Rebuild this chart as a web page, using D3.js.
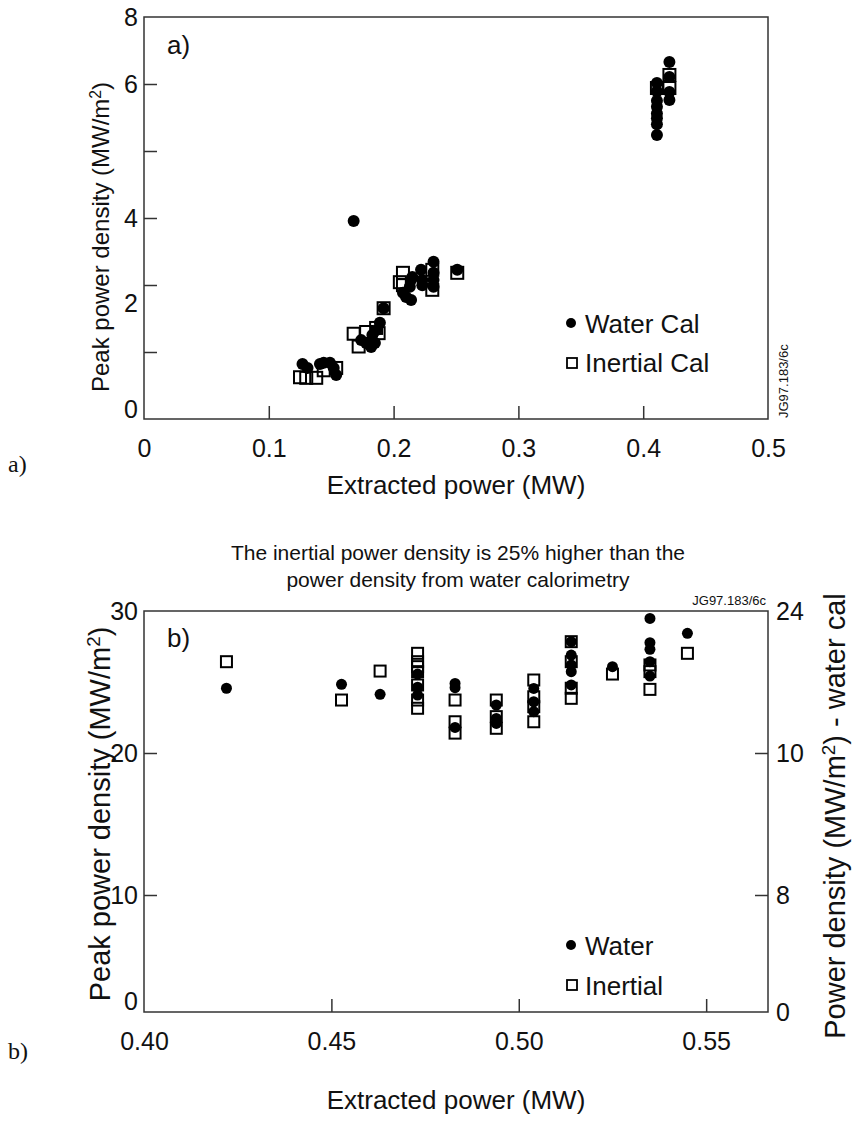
<!DOCTYPE html>
<html>
<head>
<meta charset="utf-8">
<script src="https://cdn.jsdelivr.net/npm/d3@7"></script>
<style>
  body { margin: 0; background: #fff; }
  text { font-family: "Liberation Sans", Arial, sans-serif; fill: #111; }
</style>
</head>
<body>
<div id="chart"></div>
<script>
// ---- panel a data (extracted power MW, peak power density MW/m2) ----
const aWaterX = [0.127, 0.131, 0.141, 0.144, 0.149, 0.152, 0.154,
  0.174, 0.178, 0.182, 0.185, 0.183, 0.189, 0.186, 0.192,
  0.168,
  0.2075, 0.210, 0.214, 0.214, 0.213, 0.215, 0.222, 0.223, 0.223, 0.232, 0.232, 0.232, 0.232, 0.251,
  0.411, 0.411, 0.411, 0.411, 0.411, 0.411, 0.411, 0.411,
  0.421, 0.421, 0.421, 0.421];
const aWaterY = [0.95, 0.88, 0.95, 0.97, 0.97, 0.88, 0.76,
  1.36, 1.31, 1.24, 1.31, 1.45, 1.66, 1.53, 1.91,
  3.93,
  2.24, 2.14, 2.07, 2.54, 2.38, 2.61, 2.78, 2.54, 2.42, 2.97, 2.71, 2.54, 2.38, 2.78,
  6.03, 5.89, 5.75, 5.66, 5.56, 5.49, 5.40, 5.24,
  6.66, 6.21, 5.88, 5.76];
const aInertX = [0.125, 0.130, 0.138, 0.144, 0.154,
  0.168, 0.172, 0.178, 0.186, 0.188, 0.192,
  0.2075, 0.205, 0.2075, 0.231, 0.231, 0.251,
  0.411, 0.421, 0.421];
const aInertY = [0.72, 0.71, 0.71, 0.84, 0.88,
  1.47, 1.25, 1.50, 1.57, 1.48, 1.91,
  2.71, 2.49, 2.42, 2.78, 2.31, 2.71,
  5.94, 6.27, 5.94];

// ---- panel b data ----
const bWaterX = [0.422, 0.4527, 0.463, 0.473, 0.473, 0.473, 0.483, 0.483, 0.483,
  0.494, 0.494, 0.494, 0.504, 0.504, 0.504, 0.514, 0.514, 0.514, 0.514, 0.514,
  0.525, 0.535, 0.535, 0.535, 0.535, 0.535, 0.545];
const bWaterY = [24.56, 24.84, 24.13, 25.56, 24.63, 24.08, 24.9, 24.6, 21.8,
  23.38, 22.43, 22.08, 24.55, 23.61, 22.91, 27.84, 26.9, 26.2, 25.73, 24.79,
  26.08, 29.48, 27.77, 27.3, 26.43, 25.42, 28.43];
const bInertX = [0.422, 0.4527, 0.463, 0.473, 0.473, 0.473, 0.473, 0.473, 0.473, 0.473,
  0.483, 0.483, 0.483, 0.494, 0.494, 0.494, 0.504, 0.504, 0.504, 0.504,
  0.514, 0.514, 0.514, 0.514, 0.525, 0.535, 0.535, 0.535, 0.545];
const bInertY = [26.43, 23.73, 25.77, 27.02, 26.43, 26.08, 25.73, 24.79, 23.73, 23.15,
  23.73, 22.2, 21.4, 23.73, 22.56, 21.74, 25.14, 23.96, 23.26, 22.2,
  27.84, 26.43, 24.56, 23.85, 25.56, 26.2, 25.73, 24.48, 27.02];

// tick labels as printed on the figure
const aXTicks = [0, 0.1, 0.2, 0.3, 0.4, 0.5];
const aYLabels = [0, 2, 4, 6, 8];
const bXTicks = [0.40, 0.45, 0.50, 0.55];
const bYLabels = [0, 10, 20, 30];
const bRightLabels = [0, 8, 10, 24];

const W = 855, H = 1128;
const svg = d3.select("#chart").append("svg").attr("width", W).attr("height", H);

const L = 144, R = 768;
const sup = "<tspan baseline-shift='super' font-size='0.65em'>2</tspan>";

function dot(g, x, y, xs, ys, r) {
  g.selectAll(null).data(xs).enter().append("circle")
    .attr("cx", (d, i) => x(d)).attr("cy", (d, i) => y(ys[i]))
    .attr("r", r).attr("fill", "#000");
}
function box(g, x, y, xs, ys, s) {
  g.selectAll(null).data(xs).enter().append("rect")
    .attr("x", (d, i) => x(d) - s / 2).attr("y", (d, i) => y(ys[i]) - s / 2)
    .attr("width", s).attr("height", s)
    .attr("fill", "none").attr("stroke", "#000").attr("stroke-width", 2);
}
function frame(top, bottom) {
  svg.append("rect").attr("x", L).attr("y", top).attr("width", R - L).attr("height", bottom - top)
    .attr("fill", "none").attr("stroke", "#333").attr("stroke-width", 1.5);
}
function clean(g, size) {
  g.select(".domain").remove();
  g.selectAll(".tick line").attr("stroke", "#333").attr("stroke-width", 1.5);
  g.selectAll(".tick text").style("font-size", size + "px").attr("fill", "#111")
    .style("font-family", "'Liberation Sans', Arial, sans-serif");
}

// ================= panel a =================
const aTop = 17, aBot = 419;
const xa = d3.scaleLinear().domain([0, 0.5]).range([L, R]);
// the printed y labels are not evenly spaced on the original figure
const ya = d3.scaleLinear().domain([0, 2, 4, 6, 8]).range([aBot, 303, 218, 84, aTop]);
const yaGrid = d3.scaleLinear().domain([0, 6]).range([aBot, aTop]);

frame(aTop, aBot);

// x axis a (ticks point inward)
const gxa = svg.append("g").attr("transform", `translate(0,${aBot})`)
  .call(d3.axisBottom(xa).tickValues(aXTicks).tickSizeInner(-13).tickSizeOuter(0).tickPadding(20)
    .tickFormat(d => d === 0 ? "0" : d3.format(".1f")(d)));
clean(gxa, 25);
gxa.selectAll(".tick line").filter(d => d === 0 || d === 0.5).remove();

// y tick marks a
const gya = svg.append("g").attr("transform", `translate(${L},0)`)
  .call(d3.axisLeft(yaGrid).tickValues([1, 2, 3, 4, 5]).tickSizeInner(-13).tickSizeOuter(0).tickFormat(""));
clean(gya, 25);
// y labels a
const gyl = svg.append("g").attr("transform", `translate(${L},0)`)
  .call(d3.axisLeft(ya).tickValues(aYLabels).tickSize(0).tickPadding(6));
clean(gyl, 25);
gyl.selectAll(".tick text").filter(d => d === 0).attr("dy", "-0.05em");

const ga = svg.append("g");
box(ga, xa, ya, aInertX, aInertY, 12);
dot(ga, xa, ya, aWaterX, aWaterY, 6);

svg.append("text").attr("x", 167).attr("y", 54).style("font-size", "26px").text("a)");
svg.append("text").attr("transform", "translate(109,237) rotate(-90)").attr("text-anchor", "middle")
  .style("font-size", "24px").html("Peak power density (MW/m" + sup + ")");
svg.append("text").attr("x", 456).attr("y", 494).attr("text-anchor", "middle")
  .style("font-size", "26px").text("Extracted power (MW)");
svg.append("text").attr("x", 8).attr("y", 472).style("font-family", "'Liberation Serif', 'Times New Roman', serif")
  .style("font-size", "24px").text("a)");
svg.append("text").attr("transform", "translate(788,418) rotate(-90)")
  .style("font-size", "13px").text("JG97.183/6c");

// legend a
svg.append("circle").attr("cx", 571).attr("cy", 323).attr("r", 5).attr("fill", "#000");
svg.append("text").attr("x", 585).attr("y", 333).style("font-size", "26px").text("Water Cal");
svg.append("rect").attr("x", 567).attr("y", 358).attr("width", 10).attr("height", 10)
  .attr("fill", "none").attr("stroke", "#000").attr("stroke-width", 1.8);
svg.append("text").attr("x", 585).attr("y", 372).style("font-size", "26px").text("Inertial Cal");

// ================= panel b =================
const bTop = 611, bBot = 1012;
const xb = d3.scaleLinear().domain([0.40, 0.5665]).range([L, R]);
const yb = d3.scaleLinear().domain([0, 10, 20, 30]).range([bBot, 895, 753, bTop]);
const yr = d3.scaleLinear().domain([0, 8, 10, 24]).range([bBot, 895, 753, bTop]);

frame(bTop, bBot);

const gxb = svg.append("g").attr("transform", `translate(0,${bBot})`)
  .call(d3.axisBottom(xb).tickValues(bXTicks).tickSizeInner(-13).tickSizeOuter(0).tickPadding(20)
    .tickFormat(d3.format(".2f")));
clean(gxb, 25);
gxb.selectAll(".tick line").filter(d => d === 0.40).remove();

const gyb = svg.append("g").attr("transform", `translate(${L},0)`)
  .call(d3.axisLeft(yb).tickValues(bYLabels).tickSizeInner(-13).tickSizeOuter(0).tickPadding(6));
clean(gyb, 25);
gyb.selectAll(".tick line").filter(d => d === 0 || d === 30).remove();
gyb.selectAll(".tick text").filter(d => d === 0).attr("dy", "-0.1em");

const gyr = svg.append("g").attr("transform", `translate(${R},0)`)
  .call(d3.axisRight(yr).tickValues(bRightLabels).tickSizeInner(-13).tickSizeOuter(0).tickPadding(8));
clean(gyr, 25);
gyr.selectAll(".tick line").filter(d => d === 0 || d === 24).remove();

const gb = svg.append("g");
box(gb, xb, yb, bInertX, bInertY, 11);
dot(gb, xb, yb, bWaterX, bWaterY, 5.5);

svg.append("text").attr("x", 167).attr("y", 647).style("font-size", "26px").text("b)");
svg.append("text").attr("x", 458).attr("y", 560).attr("text-anchor", "middle")
  .style("font-size", "21px").text("The inertial power density is 25% higher than the");
svg.append("text").attr("x", 458).attr("y", 587).attr("text-anchor", "middle")
  .style("font-size", "21px").text("power density from water calorimetry");
svg.append("text").attr("x", 766).attr("y", 605).attr("text-anchor", "end")
  .style("font-size", "13px").text("JG97.183/6c");
svg.append("text").attr("transform", "translate(110,814) rotate(-90)").attr("text-anchor", "middle")
  .style("font-size", "29px").html("Peak power density (MW/m" + sup + ")");
svg.append("text").attr("transform", "translate(845,816) rotate(-90)").attr("text-anchor", "middle")
  .style("font-size", "29px").html("Power density (MW/m" + sup + ") - water cal");
svg.append("text").attr("x", 456).attr("y", 1109).attr("text-anchor", "middle")
  .style("font-size", "26px").text("Extracted power (MW)");
svg.append("text").attr("x", 8).attr("y", 1059).style("font-family", "'Liberation Serif', 'Times New Roman', serif")
  .style("font-size", "24px").text("b)");

// legend b
svg.append("circle").attr("cx", 571).attr("cy", 945).attr("r", 5).attr("fill", "#000");
svg.append("text").attr("x", 585).attr("y", 955).style("font-size", "26px").text("Water");
svg.append("rect").attr("x", 567).attr("y", 980).attr("width", 10).attr("height", 10)
  .attr("fill", "none").attr("stroke", "#000").attr("stroke-width", 1.8);
svg.append("text").attr("x", 585).attr("y", 995).style("font-size", "26px").text("Inertial");
</script>
</body>
</html>
